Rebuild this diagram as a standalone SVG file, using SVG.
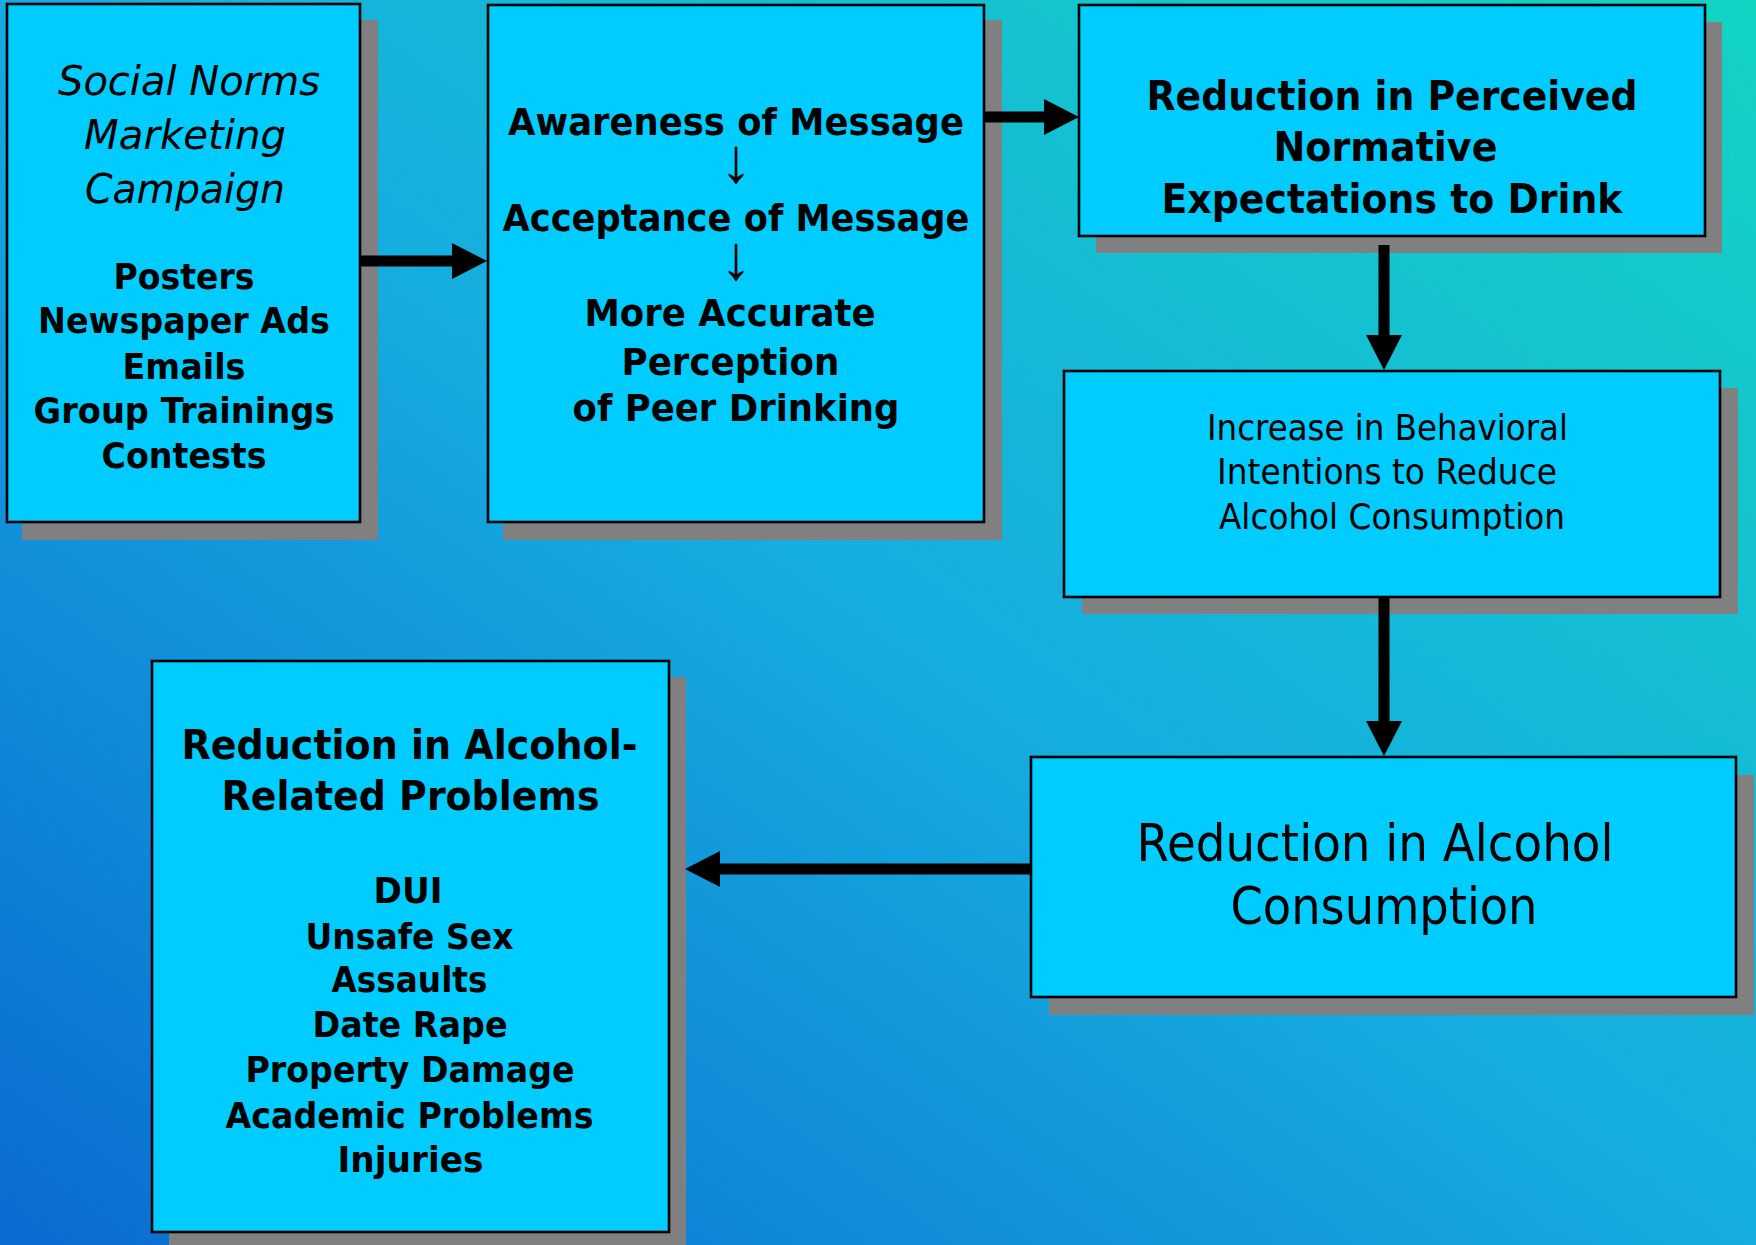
<svg xmlns="http://www.w3.org/2000/svg" width="1756" height="1245" viewBox="0 0 1756 1245">
<defs>
<linearGradient id="bg" x1="0" y1="1" x2="1" y2="0">
<stop offset="0" stop-color="#0a6bd0"/>
<stop offset="0.5" stop-color="#16ace0"/>
<stop offset="1" stop-color="#12d4c2"/>
</linearGradient>
<marker id="ah" markerUnits="userSpaceOnUse" markerWidth="40" markerHeight="40" viewBox="0 -20 40 40" refX="2" refY="0" orient="auto">
<path d="M0,-18 L35,0 L0,18 Z" fill="#000"/>
</marker>
<style>
.box{fill:#00ccff;stroke:#000;stroke-width:2.6}
.sh{fill:#808080}
.conn{stroke:#000;stroke-width:11;fill:none;marker-end:url(#ah)}
text{font-family:"DejaVu Sans","Liberation Sans",sans-serif;fill:#000;text-anchor:middle}
.b{font-weight:bold}
.i{font-style:italic}
.c{font-weight:normal}
.ar{font-family:"Liberation Sans","DejaVu Sans",sans-serif}
</style>
</defs>
<rect width="1756" height="1245" fill="url(#bg)"/>

<g id="node-campaign">
<rect class="sh" x="22" y="20" width="356" height="520"/>
<rect class="box" x="7" y="4" width="353" height="518"/>
<text class="i" font-size="41" x="189" y="95" textLength="262" lengthAdjust="spacingAndGlyphs">Social Norms</text>
<text class="i" font-size="41" x="185" y="149" textLength="202" lengthAdjust="spacingAndGlyphs">Marketing</text>
<text class="i" font-size="41" x="185" y="203" textLength="200" lengthAdjust="spacingAndGlyphs">Campaign</text>
<text class="b" font-size="35" x="184" y="289" textLength="141" lengthAdjust="spacingAndGlyphs">Posters</text>
<text class="b" font-size="35" x="184" y="333" textLength="292" lengthAdjust="spacingAndGlyphs">Newspaper Ads</text>
<text class="b" font-size="35" x="184" y="379" textLength="123" lengthAdjust="spacingAndGlyphs">Emails</text>
<text class="b" font-size="35" x="184" y="423" textLength="301" lengthAdjust="spacingAndGlyphs">Group Trainings</text>
<text class="b" font-size="35" x="184" y="468" textLength="165" lengthAdjust="spacingAndGlyphs">Contests</text>
</g>

<g id="node-awareness">
<rect class="sh" x="503" y="20" width="499" height="520"/>
<rect class="box" x="488" y="5" width="496" height="517"/>
<text class="b" font-size="38" x="736" y="135" textLength="456" lengthAdjust="spacingAndGlyphs">Awareness of Message</text>
<text class="ar" font-size="63" x="736" y="182">↓</text>
<text class="b" font-size="38" x="736" y="231" textLength="467" lengthAdjust="spacingAndGlyphs">Acceptance of Message</text>
<text class="ar" font-size="63" x="736" y="279">↓</text>
<text class="b" font-size="38" x="730" y="326" textLength="291" lengthAdjust="spacingAndGlyphs">More Accurate</text>
<text class="b" font-size="38" x="730.5" y="375" textLength="218" lengthAdjust="spacingAndGlyphs">Perception</text>
<text class="b" font-size="38" x="736" y="421" textLength="327" lengthAdjust="spacingAndGlyphs">of Peer Drinking</text>
</g>

<g id="node-perceived">
<rect class="sh" x="1096" y="22" width="626" height="231"/>
<rect class="box" x="1079" y="5" width="626" height="231"/>
<text class="b" font-size="40" x="1392" y="110" textLength="491" lengthAdjust="spacingAndGlyphs">Reduction in Perceived</text>
<text class="b" font-size="40" x="1385.5" y="161" textLength="224" lengthAdjust="spacingAndGlyphs">Normative</text>
<text class="b" font-size="40" x="1392" y="213" textLength="461" lengthAdjust="spacingAndGlyphs">Expectations to Drink</text>
</g>

<g id="node-intentions">
<rect class="sh" x="1082" y="388" width="656" height="226"/>
<rect class="box" x="1064" y="371" width="656" height="226"/>
<text class="c" font-size="36" x="1387.5" y="440" textLength="361" lengthAdjust="spacingAndGlyphs">Increase in Behavioral</text>
<text class="c" font-size="36" x="1387" y="484" textLength="340" lengthAdjust="spacingAndGlyphs">Intentions to Reduce</text>
<text class="c" font-size="36" x="1392" y="529" textLength="346" lengthAdjust="spacingAndGlyphs">Alcohol Consumption</text>
</g>

<g id="node-consumption">
<rect class="sh" x="1049" y="775" width="705" height="240"/>
<rect class="box" x="1031" y="757" width="705" height="240"/>
<text class="c" font-size="51" x="1375" y="861" textLength="477" lengthAdjust="spacingAndGlyphs">Reduction in Alcohol</text>
<text class="c" font-size="51" x="1384" y="924" textLength="307" lengthAdjust="spacingAndGlyphs">Consumption</text>
</g>

<g id="node-problems">
<rect class="sh" x="169" y="677" width="517" height="571"/>
<rect class="box" x="152" y="661" width="517" height="571"/>
<text class="b" font-size="40" x="409.5" y="759" textLength="456" lengthAdjust="spacingAndGlyphs">Reduction in Alcohol-</text>
<text class="b" font-size="40" x="410.5" y="810" textLength="378" lengthAdjust="spacingAndGlyphs">Related Problems</text>
<text class="b" font-size="35" x="408" y="903" textLength="69" lengthAdjust="spacingAndGlyphs">DUI</text>
<text class="b" font-size="35" x="409.5" y="949" textLength="208" lengthAdjust="spacingAndGlyphs">Unsafe Sex</text>
<text class="b" font-size="35" x="409.5" y="992" textLength="156" lengthAdjust="spacingAndGlyphs">Assaults</text>
<text class="b" font-size="35" x="410" y="1037" textLength="195" lengthAdjust="spacingAndGlyphs">Date Rape</text>
<text class="b" font-size="35" x="410" y="1082" textLength="329" lengthAdjust="spacingAndGlyphs">Property Damage</text>
<text class="b" font-size="35" x="409.5" y="1128" textLength="368" lengthAdjust="spacingAndGlyphs">Academic Problems</text>
<text class="b" font-size="35" x="410.5" y="1172" textLength="146" lengthAdjust="spacingAndGlyphs">Injuries</text>
</g>

<g id="connectors">
<line class="conn" x1="360" y1="261" x2="454" y2="261"/>
<line class="conn" x1="984" y1="117" x2="1046" y2="117"/>
<line class="conn" x1="1384" y1="245" x2="1384" y2="337"/>
<line class="conn" x1="1384" y1="597" x2="1384" y2="723"/>
<line class="conn" x1="1031" y1="869" x2="718" y2="869"/>
</g>
</svg>
